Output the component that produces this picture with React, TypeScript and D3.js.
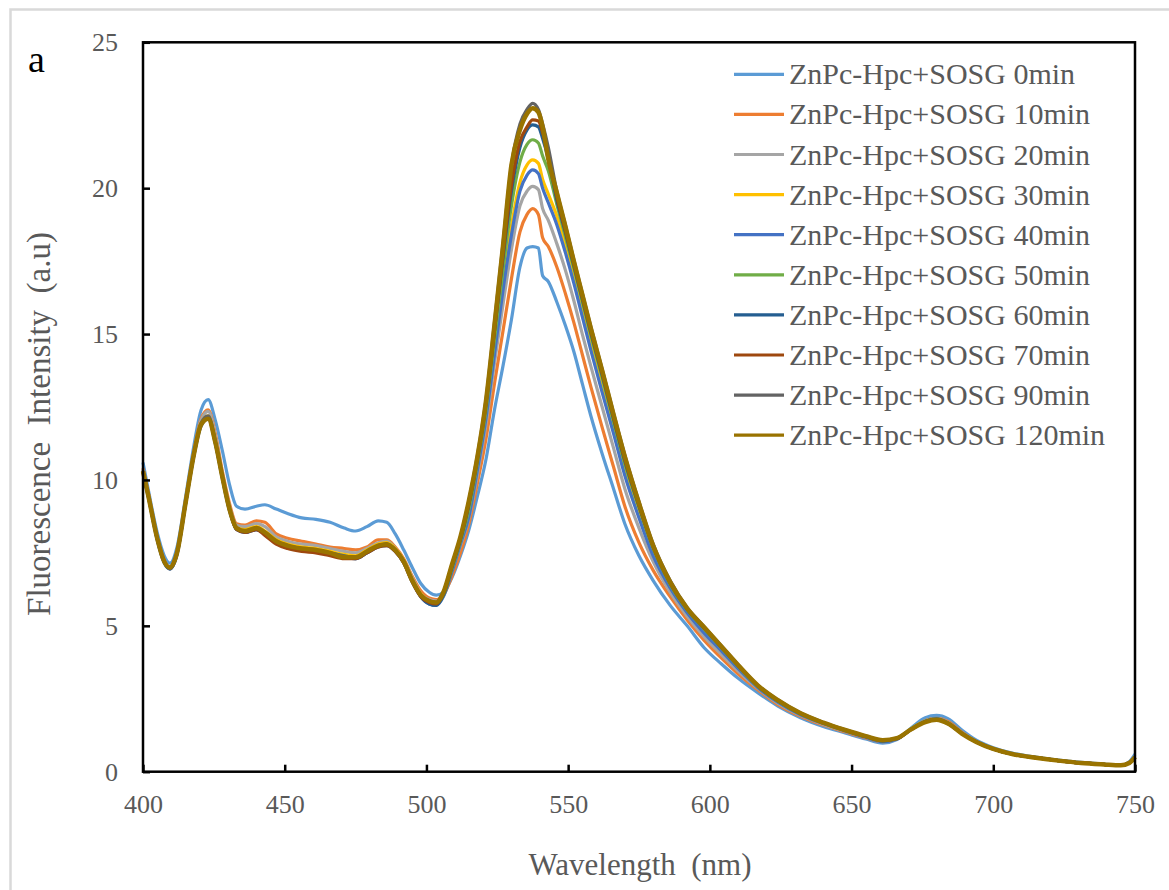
import React, { useEffect, useRef } from 'react';
import * as d3 from 'd3';

// wavelength grid (nm)
const wavelengths = [
  400, 402, 405, 407.5, 409.5, 412, 415, 418, 420.5, 423,
  425.5, 428, 430.5, 433, 436, 440, 443, 447, 451, 456,
  461, 466, 471, 475, 479, 483, 486, 489, 492, 495,
  498, 501, 503.5, 506, 509, 512, 515, 518, 521, 524,
  527, 530, 533, 535.5, 537.5, 539.5, 541, 543, 546, 549,
  552, 555, 558, 562, 566, 570, 575, 580, 586, 592,
  598, 604, 610, 617, 624, 632, 640, 648, 655, 661,
  666, 671, 676, 680, 684, 689, 694, 700, 707, 715,
  723, 731, 739, 745, 748, 750,
];

const min0 = [
  10.6, 9.6, 8.2, 7.4, 7.15, 7.7, 9.4, 11.2, 12.4, 12.75,
  12.05, 11.0, 9.85, 9.1, 9.0, 9.1, 9.15, 9.0, 8.85, 8.7,
  8.65, 8.55, 8.35, 8.25, 8.4, 8.6, 8.55, 8.15, 7.6, 7.0,
  6.45, 6.15, 6.05, 6.15, 6.65, 7.4, 8.3, 9.45, 10.7, 12.4,
  13.9, 15.5, 17.3, 17.95, 18.0, 17.95, 17.0, 16.8, 16.1, 15.3,
  14.4, 13.3, 12.2, 10.9, 9.7, 8.5, 7.4, 6.55, 5.7, 5.0,
  4.25, 3.7, 3.2, 2.7, 2.25, 1.85, 1.55, 1.32, 1.12, 0.98,
  1.1, 1.5, 1.85, 1.93, 1.82, 1.42, 1.08, 0.82, 0.63, 0.5,
  0.4, 0.32, 0.26, 0.22, 0.34, 0.6,
];

const min10 = [
  10.4, 9.5, 8.05, 7.25, 7.0, 7.55, 9.3, 11.0, 12.1, 12.4,
  11.6, 10.3, 9.2, 8.5, 8.45, 8.6, 8.55, 8.15, 8.0, 7.9,
  7.8, 7.7, 7.65, 7.6, 7.7, 7.95, 7.95, 7.7, 7.3, 6.7,
  6.2, 5.95, 5.9, 6.05, 6.7, 7.5, 8.5, 9.9, 11.4, 13.3,
  15.1, 16.9, 18.5, 19.1, 19.3, 19.1, 18.3, 18.0, 17.3, 16.4,
  15.4, 14.3, 13.2, 11.8, 10.45, 9.1, 7.85, 6.9, 6.0, 5.2,
  4.5, 3.9, 3.35, 2.8, 2.3, 1.9, 1.6, 1.36, 1.16, 1.03,
  1.12, 1.45, 1.75, 1.83, 1.72, 1.35, 1.03, 0.79, 0.6, 0.48,
  0.38, 0.3, 0.25, 0.22, 0.32, 0.52,
];

const min20 = [
  10.35, 9.45, 8.0, 7.2, 7.0, 7.5, 9.25, 10.95, 12.05, 12.35,
  11.5, 10.2, 9.1, 8.45, 8.4, 8.5, 8.4, 8.05, 7.9, 7.8,
  7.75, 7.65, 7.55, 7.5, 7.65, 7.85, 7.9, 7.65, 7.25, 6.65,
  6.1, 5.9, 5.85, 6.1, 6.9, 7.75, 8.7, 10.2, 11.9, 14.0,
  16.0, 17.9, 19.4, 19.9, 20.06, 19.95, 19.3, 18.9, 18.1, 17.2,
  16.15, 15.0, 13.9, 12.5, 11.1, 9.7, 8.35, 7.2, 6.15, 5.33,
  4.63, 4.03, 3.45, 2.85, 2.35, 1.93, 1.63, 1.38, 1.18, 1.05,
  1.13, 1.45, 1.72, 1.8, 1.68, 1.32, 1.02, 0.78, 0.6, 0.48,
  0.38, 0.3, 0.25, 0.22, 0.3, 0.5,
];

const min30 = [
  10.3, 9.4, 8.0, 7.2, 7.0, 7.5, 9.2, 10.9, 11.95, 12.2,
  11.35, 10.15, 9.05, 8.35, 8.3, 8.4, 8.25, 7.95, 7.8, 7.7,
  7.65, 7.55, 7.45, 7.4, 7.6, 7.8, 7.85, 7.65, 7.25, 6.6,
  6.1, 5.85, 5.8, 6.1, 6.95, 7.85, 8.85, 10.45, 12.2, 14.5,
  16.7, 18.7, 20.2, 20.8, 20.97, 20.85, 20.3, 19.8, 19.05, 18.05,
  17.0, 15.85, 14.7, 13.25, 11.8, 10.3, 8.85, 7.5, 6.35, 5.5,
  4.82, 4.2, 3.57, 2.9, 2.4, 1.97, 1.66, 1.4, 1.2, 1.06,
  1.14, 1.47, 1.75, 1.82, 1.68, 1.32, 1.02, 0.78, 0.6, 0.48,
  0.38, 0.3, 0.25, 0.22, 0.3, 0.5,
];

const min40 = [
  10.3, 9.4, 8.0, 7.2, 6.95, 7.45, 9.2, 10.9, 11.9, 12.15,
  11.3, 10.1, 9.0, 8.3, 8.2, 8.3, 8.15, 7.85, 7.7, 7.6,
  7.55, 7.45, 7.35, 7.3, 7.5, 7.75, 7.8, 7.6, 7.2, 6.55,
  6.0, 5.75, 5.7, 6.0, 6.85, 7.8, 8.75, 10.35, 12.1, 14.3,
  16.5, 18.4, 19.9, 20.45, 20.63, 20.5, 20.0, 19.5, 18.75, 17.8,
  16.75, 15.6, 14.45, 13.0, 11.6, 10.15, 8.7, 7.4, 6.3, 5.45,
  4.75, 4.15, 3.53, 2.88, 2.38, 1.95, 1.65, 1.39, 1.18, 1.03,
  1.12, 1.46, 1.74, 1.82, 1.68, 1.32, 1.02, 0.78, 0.6, 0.48,
  0.38, 0.3, 0.25, 0.22, 0.3, 0.52,
];

const min50 = [
  10.3, 9.4, 8.0, 7.2, 7.0, 7.5, 9.2, 10.9, 11.9, 12.15,
  11.3, 10.1, 9.0, 8.35, 8.25, 8.35, 8.2, 7.9, 7.75, 7.65,
  7.6, 7.5, 7.4, 7.35, 7.55, 7.75, 7.8, 7.6, 7.2, 6.55,
  6.05, 5.8, 5.75, 6.05, 6.95, 7.9, 9.0, 10.6, 12.4, 14.8,
  17.2, 19.4, 20.9, 21.5, 21.66, 21.55, 21.1, 20.6, 19.45, 18.35,
  17.25, 16.1, 14.95, 13.5, 12.0, 10.55, 9.05, 7.65, 6.42, 5.55,
  4.89, 4.25, 3.61, 2.92, 2.42, 1.98, 1.67, 1.41, 1.2, 1.06,
  1.14, 1.46, 1.72, 1.8, 1.66, 1.31, 1.02, 0.78, 0.6, 0.48,
  0.38, 0.3, 0.25, 0.22, 0.3, 0.5,
];

const min60 = [
  10.25, 9.35, 7.95, 7.15, 6.95, 7.45, 9.15, 10.85, 11.85, 12.1,
  11.25, 10.05, 8.95, 8.3, 8.2, 8.3, 8.15, 7.85, 7.7, 7.6,
  7.55, 7.45, 7.35, 7.3, 7.5, 7.7, 7.75, 7.55, 7.15, 6.5,
  6.0, 5.75, 5.7, 6.05, 7.0, 7.95, 9.15, 10.7, 12.6, 15.1,
  17.6, 19.9, 21.4, 22.0, 22.17, 22.1, 21.7, 21.0, 19.6, 18.5,
  17.35, 16.2, 15.05, 13.6, 12.1, 10.65, 9.1, 7.7, 6.45, 5.57,
  4.92, 4.27, 3.63, 2.93, 2.43, 1.99, 1.67, 1.41, 1.2, 1.05,
  1.13, 1.45, 1.72, 1.8, 1.66, 1.31, 1.02, 0.78, 0.6, 0.48,
  0.38, 0.3, 0.25, 0.22, 0.3, 0.5,
];

const min70 = [
  10.3, 9.4, 8.0, 7.2, 7.0, 7.5, 9.2, 10.9, 11.9, 12.1,
  11.3, 10.1, 9.0, 8.3, 8.2, 8.3, 8.1, 7.8, 7.65, 7.55,
  7.5, 7.4, 7.3, 7.3, 7.5, 7.7, 7.75, 7.55, 7.15, 6.5,
  6.0, 5.8, 5.75, 6.1, 7.05, 8.0, 9.2, 10.75, 12.6, 15.1,
  17.7, 20.1, 21.6, 22.1, 22.34, 22.3, 21.9, 21.2, 19.7, 18.55,
  17.4, 16.25, 15.1, 13.65, 12.15, 10.7, 9.15, 7.72, 6.48, 5.58,
  4.93, 4.28, 3.64, 2.94, 2.44, 2.0, 1.68, 1.42, 1.21, 1.07,
  1.14, 1.45, 1.71, 1.79, 1.65, 1.3, 1.02, 0.78, 0.6, 0.48,
  0.38, 0.3, 0.25, 0.22, 0.3, 0.5,
];

const min90 = [
  10.3, 9.4, 8.0, 7.2, 6.95, 7.5, 9.2, 10.9, 11.95, 12.2,
  11.35, 10.15, 9.05, 8.35, 8.25, 8.35, 8.2, 7.9, 7.75, 7.65,
  7.6, 7.5, 7.4, 7.35, 7.55, 7.75, 7.8, 7.6, 7.2, 6.55,
  6.05, 5.85, 5.8, 6.15, 7.1, 8.05, 9.3, 10.85, 12.75, 15.4,
  18.1, 20.8, 22.2, 22.7, 22.91, 22.7, 22.2, 21.4, 19.9, 18.75,
  17.55, 16.4, 15.25, 13.8, 12.3, 10.85, 9.25, 7.8, 6.55, 5.62,
  4.97, 4.32, 3.67, 2.96, 2.46, 2.01, 1.69, 1.43, 1.22, 1.08,
  1.15, 1.45, 1.7, 1.78, 1.65, 1.3, 1.02, 0.78, 0.6, 0.48,
  0.38, 0.3, 0.25, 0.22, 0.3, 0.5,
];

const min120 = [
  10.3, 9.4, 8.0, 7.2, 7.0, 7.5, 9.2, 10.9, 11.9, 12.1,
  11.3, 10.1, 9.0, 8.35, 8.25, 8.35, 8.2, 7.9, 7.75, 7.65,
  7.6, 7.5, 7.35, 7.35, 7.55, 7.75, 7.8, 7.6, 7.2, 6.55,
  6.05, 5.85, 5.8, 6.15, 7.1, 8.05, 9.3, 10.8, 12.7, 15.3,
  18.0, 20.8, 22.0, 22.55, 22.74, 22.6, 22.1, 21.0, 19.85, 18.7,
  17.5, 16.35, 15.2, 13.75, 12.25, 10.8, 9.2, 7.75, 6.5, 5.6,
  4.95, 4.3, 3.65, 2.95, 2.45, 2.0, 1.68, 1.42, 1.22, 1.08,
  1.15, 1.45, 1.7, 1.78, 1.65, 1.3, 1.02, 0.78, 0.6, 0.48,
  0.38, 0.3, 0.25, 0.22, 0.3, 0.5,
];

const seriesNames = [
  'ZnPc-Hpc+SOSG 0min', 'ZnPc-Hpc+SOSG 10min', 'ZnPc-Hpc+SOSG 20min',
  'ZnPc-Hpc+SOSG 30min', 'ZnPc-Hpc+SOSG 40min', 'ZnPc-Hpc+SOSG 50min',
  'ZnPc-Hpc+SOSG 60min', 'ZnPc-Hpc+SOSG 70min', 'ZnPc-Hpc+SOSG 90min',
  'ZnPc-Hpc+SOSG 120min',
];
const seriesValues = [min0, min10, min20, min30, min40, min50, min60, min70, min90, min120];
const seriesColors = [
  '#5B9BD5', '#ED7D31', '#A5A5A5', '#FFC000', '#4472C4',
  '#70AD47', '#255E91', '#9E480E', '#636363', '#997300',
];

const xTicks = [400, 450, 500, 550, 600, 650, 700, 750];
const yTicks = [0, 5, 10, 15, 20, 25];

const FONT = '"Liberation Serif", "Times New Roman", serif';
const TEXT = '#595959';

export default function App() {
  const svgRef = useRef<SVGSVGElement>(null);

  useEffect(() => {
    const svg = d3.select(svgRef.current);
    svg.selectAll('*').remove();

    const left = 143, right = 1135, top = 42.3, bottom = 771.7;
    const x = d3.scaleLinear().domain([400, 750]).range([left, right]);
    const y = d3.scaleLinear().domain([0, 25]).range([bottom, top]);

    // outer frame
    svg.append('rect')
      .attr('x', 10.5).attr('y', 9.5)
      .attr('width', 1200).attr('height', 1000)
      .attr('fill', '#fff')
      .attr('stroke', '#D9D9D9')
      .attr('stroke-width', 2.5);

    // spectra, first series at the bottom
    const line = d3.line<number>()
      .curve(d3.curveMonotoneX)
      .x((_, i) => x(wavelengths[i]))
      .y(d => y(d));

    seriesValues.forEach((vals, i) => {
      svg.append('path')
        .datum(vals)
        .attr('d', line)
        .attr('fill', 'none')
        .attr('stroke', seriesColors[i])
        .attr('stroke-width', i === seriesValues.length - 1 ? 4.5 : 3.2)
        .attr('stroke-linejoin', 'round');
    });

    // axes with inside ticks
    const xAxis = svg.append('g')
      .attr('transform', `translate(0,${bottom})`)
      .call(d3.axisBottom(x).tickValues(xTicks).tickSizeInner(-7).tickSizeOuter(0));
    xAxis.select('.domain').remove();
    xAxis.selectAll('line').attr('stroke', '#000').attr('stroke-width', 2.5);
    xAxis.selectAll('text')
      .attr('y', 41).attr('dy', 0)
      .attr('font-size', 26).attr('font-family', FONT).attr('fill', TEXT);

    const yAxis = svg.append('g')
      .attr('transform', `translate(${left},0)`)
      .call(d3.axisLeft(y).tickValues(yTicks).tickSizeInner(-7).tickSizeOuter(0));
    yAxis.select('.domain').remove();
    yAxis.selectAll('line').attr('stroke', '#000').attr('stroke-width', 2.5);
    yAxis.selectAll('text')
      .attr('x', -25).attr('dy', '0.33em')
      .attr('font-size', 26).attr('font-family', FONT).attr('fill', TEXT);

    // plot border
    svg.append('rect')
      .attr('x', left).attr('y', top)
      .attr('width', right - left).attr('height', bottom - top)
      .attr('fill', 'none')
      .attr('stroke', '#000')
      .attr('stroke-width', 2.5);

    // legend
    const legend = svg.append('g');
    seriesNames.forEach((name, i) => {
      const ly = 74.3 + i * 40.1;
      legend.append('line')
        .attr('x1', 734).attr('x2', 784)
        .attr('y1', ly).attr('y2', ly)
        .attr('stroke', seriesColors[i])
        .attr('stroke-width', 3.2);
      legend.append('text')
        .attr('x', 789).attr('y', ly + 10)
        .attr('font-size', 30).attr('font-family', FONT).attr('fill', TEXT)
        .text(name);
    });

    // titles
    svg.append('text')
      .attr('x', 640).attr('y', 875)
      .attr('text-anchor', 'middle')
      .attr('font-size', 31).attr('font-family', FONT).attr('fill', TEXT)
      .style('white-space', 'pre')
      .text('Wavelength  (nm)');

    svg.append('text')
      .attr('transform', 'translate(50,424) rotate(-90)')
      .attr('text-anchor', 'middle')
      .attr('font-size', 33).attr('font-family', FONT).attr('fill', TEXT)
      .style('white-space', 'pre')
      .text('Fluorescence  Intensity  (a.u)');

    svg.append('text')
      .attr('x', 28).attr('y', 72)
      .attr('font-size', 38).attr('font-family', FONT).attr('fill', '#000')
      .text('a');
  }, []);

  return (
    <svg
      ref={svgRef}
      width={1169}
      height={890}
      style={{ position: 'absolute', left: 0, top: 0, background: '#fff' }}
    />
  );
}
